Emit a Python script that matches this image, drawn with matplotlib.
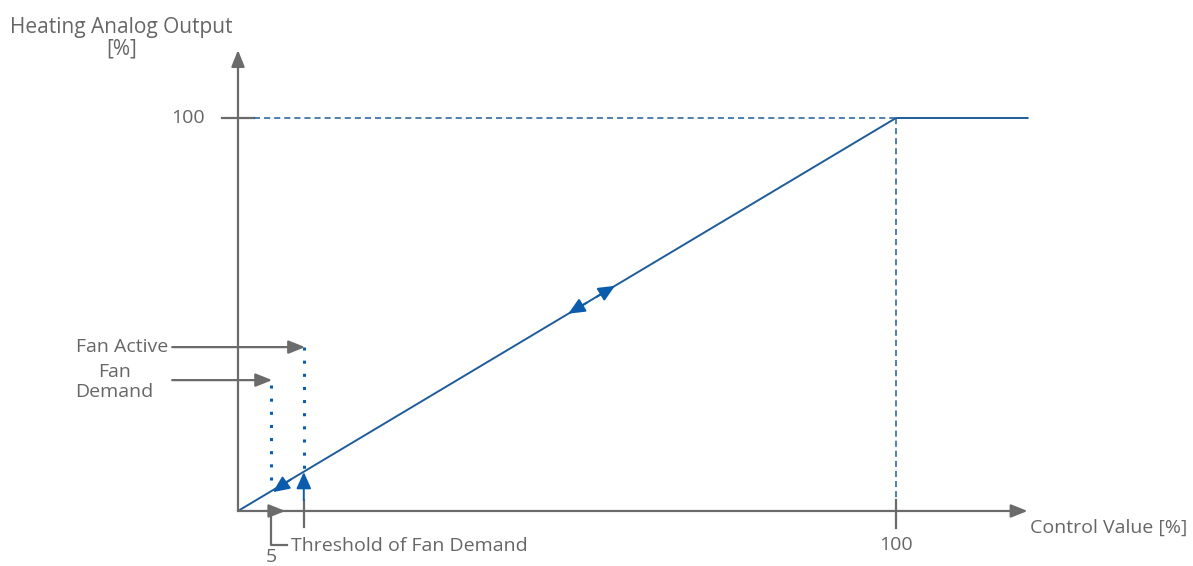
import matplotlib
matplotlib.use("Agg")
import matplotlib.pyplot as plt

plt.rcParams['font.family'] = ['Open Sans', 'DejaVu Sans']

# characteristic curve (control value -> heating output, %)
curve_x = [0, 100, 120]
curve_y = [0, 100, 100]

min_value = 5          # fan demand threshold start
threshold = 10         # threshold of fan demand
fan_active_y = 41.7
fan_demand_y = 33.3
x_ticks = [5, 100]
y_ticks = [100]

BLUE = '#1f5c99'
ARROW_BLUE = '#0b5cad'
GRAY = '#6b6b6b'
TEXT = '#666666'
FS = 14

fig = plt.figure(figsize=(11.93, 5.66), dpi=100)
ax = fig.add_axes([0, 0, 1, 1])
ax.set_xlim(-36.17, 145.14)
ax.set_ylim(-14.0, 130.03)
ax.axis('off')


def arrow(x0, y0, x1, y1, color, lw=1.5, hl=0.9, hw=0.45):
    ax.annotate('', xy=(x1, y1), xytext=(x0, y0),
                arrowprops=dict(arrowstyle=f'-|>,head_length={hl},head_width={hw}',
                                color=color, lw=lw, shrinkA=0, shrinkB=0))


# axes
arrow(0, 0, 120, 0, GRAY, lw=1.6, hl=1.0, hw=0.4)
arrow(0, 0, 0, 117.3, GRAY, lw=1.6, hl=1.0, hw=0.4)

# ticks
ax.plot([-2.4, 2.4], [y_ticks[0]] * 2, color=GRAY, lw=1.6)
ax.plot([x_ticks[1]] * 2, [2.8, -4.3], color=GRAY, lw=1.6)
ax.text(-5.0, y_ticks[0], '100', ha='right', va='center', fontsize=FS, color=TEXT)
ax.text(x_ticks[1], -8.6, '100', ha='center', va='center', fontsize=FS, color=TEXT)
ax.text(x_ticks[0], -13.9, '5', ha='center', va='bottom', fontsize=FS, color=TEXT)

# reference dashed lines
ax.plot([2.4, 100], [100, 100], color=BLUE, lw=1.1, ls=(0, (4, 2.6)))
ax.plot([100, 100], [100, 2.8], color=BLUE, lw=1.1, ls=(0, (4, 2.6)))

# main curve
ax.plot(curve_x, curve_y, color=BLUE, lw=1.4)

# direction arrows on the curve
arrow(54.5, 54.5, 57.3, 57.3, ARROW_BLUE, lw=1.4, hl=1.0, hw=0.45)
arrow(53.0, 53.0, 50.2, 50.2, ARROW_BLUE, lw=1.4, hl=1.0, hw=0.45)
arrow(8.0, 8.0, 5.3, 4.8, ARROW_BLUE, lw=1.4, hl=1.0, hw=0.45)
arrow(threshold, 2.8, threshold, 9.9, ARROW_BLUE, lw=1.4, hl=1.0, hw=0.45)

# dotted marker lines
ax.plot([min_value, min_value], [32.0, 5.5], color=ARROW_BLUE, lw=2.2, ls=(0, (1, 3.3)))
ax.plot([threshold, threshold], [fan_active_y, 10.5], color=ARROW_BLUE, lw=2.2, ls=(0, (1, 3.3)))

# labels with gray arrows
arrow(-10.0, fan_active_y, 10.2, fan_active_y, GRAY, lw=1.6, hl=1.0, hw=0.4)
arrow(-10.0, fan_demand_y, 5.2, fan_demand_y, GRAY, lw=1.6, hl=1.0, hw=0.4)
ax.text(-10.6, fan_active_y, 'Fan Active', ha='right', va='center', fontsize=FS, color=TEXT)
ax.text(-18.8, fan_demand_y - 0.5, 'Fan\nDemand', ha='center', va='center', fontsize=FS,
        color=TEXT, linespacing=1.18)

# threshold bracket
arrow(min_value, 0, 7.2, 0, GRAY, lw=1.6, hl=1.0, hw=0.4)
ax.plot([min_value, min_value, 7.4], [0, -8.65, -8.65], color=GRAY, lw=1.6)
ax.plot([threshold, threshold], [2.8, -4.0], color=GRAY, lw=1.6)
ax.text(8.05, -9.0, 'Threshold of Fan Demand', ha='left', va='center', fontsize=FS, color=TEXT)

# axis titles
ax.text(-17.75, 120.3, 'Heating Analog Output\n[%]', ha='center', va='center', fontsize=15,
        color=TEXT, linespacing=1.08)
ax.text(120.4, -4.3, 'Control Value [%]', ha='left', va='center', fontsize=FS, color=TEXT)

fig.savefig('out.png', dpi=100)
